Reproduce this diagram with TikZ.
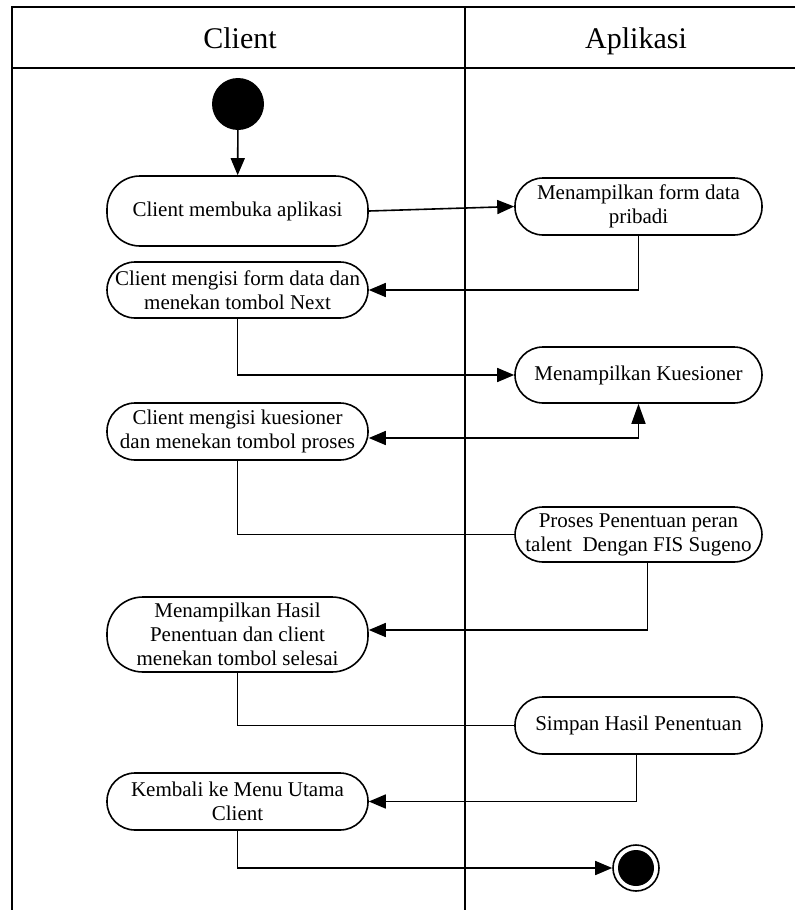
\documentclass[tikz,border=0pt]{standalone}
\usepackage{fontspec}
\setmainfont{Liberation Serif}
\usetikzlibrary{arrows.meta,calc}
\begin{document}
\begin{tikzpicture}[x=1pt,y=-1pt,
  lane/.style={line width=1.6pt},
  act/.style={draw, line width=1.6pt, rectangle, rounded corners=28pt,
    align=center, inner sep=0pt, font=\fontsize{21}{24}\selectfont},
  leftact/.style={act, minimum width=261pt},
  rightact/.style={act, minimum width=247pt},
  head/.style={font=\fontsize{30}{34}\selectfont, anchor=base},
  link/.style={line width=1.6pt},
  flow/.style={link, -{Triangle[length=17pt,width=14pt]}},
  both/.style={link, {Triangle[length=17pt,width=14pt]}-{Triangle[length=20pt,width=14pt]}},
]
\useasboundingbox (0,0) rectangle (795,910);
\fill[white] (0,0) rectangle (795,910);

% swimlane frame
\draw[lane] (795,7) -- (12,7) -- (12,910);
\draw[lane] (12,68) -- (795,68);
\draw[lane] (465,7) -- (465,910);
\node[head] (hc) at (240,48) {Client};
\node[head] (ha) at (636,48) {Aplikasi};

% start and end
\node[circle, fill=black, minimum size=52pt, inner sep=0pt] (start) at (238,104) {};
\node[circle, draw, line width=1.6pt, minimum size=46pt, inner sep=0pt] (end) at (636,868) {};
\fill (end.center) circle (18pt);

% activities
\node[leftact, minimum height=70pt, rounded corners=33pt] (n1) at (237.5,211) {Client membuka aplikasi};
\node[rightact, minimum height=57pt] (n2) at (638.5,206.5) {Menampilkan form data\\pribadi};
\node[leftact, minimum height=56pt] (n3) at (237.5,290) {Client mengisi form data dan\\menekan tombol Next};
\node[rightact, minimum height=56pt] (n4) at (638.5,375) {Menampilkan Kuesioner};
\node[leftact, minimum height=57pt] (n5) at (237.5,431.5) {Client mengisi kuesioner\\dan menekan tombol proses};
\node[rightact, minimum height=55pt] (n6) at (638.5,534.5) {Proses Penentuan peran\\talent~ Dengan FIS Sugeno};
\node[leftact, minimum height=75pt, rounded corners=36pt] (n7) at (237.5,634.5) {Menampilkan Hasil\\Penentuan dan client\\menekan tombol selesai};
\node[rightact, minimum height=57pt] (n8) at (638.5,725.5) {Simpan Hasil Penentuan};
\node[leftact, minimum height=57pt] (n9) at (237.5,801.5) {Kembali ke Menu Utama\\Client};

% control flow
\draw[flow] (start) -- (n1);
\draw[flow] (n1.east) -- (n2.west);
\draw[flow] (n2.south) |- (n3.east);
\draw[flow] (n3.south) |- (n4.west);
\coordinate (k5) at ($(n5.east)+(0,6.5)$);
\draw[both] (k5) -| (n4.south);
\draw[link] (n5.south) |- (n6.west);
\coordinate (p6) at ($(n6.south)+(9,0)$);
\coordinate (k7) at ($(n7.east)+(0,-4.5)$);
\draw[flow] (p6) |- (k7);
\draw[link] (n7.south) |- (n8.west);
\coordinate (p8) at ($(n8.south)+(-2,0)$);
\draw[flow] (p8) |- (n9.east);
\draw[flow] (n9.south) |- (end.west);
\end{tikzpicture}
\end{document}
